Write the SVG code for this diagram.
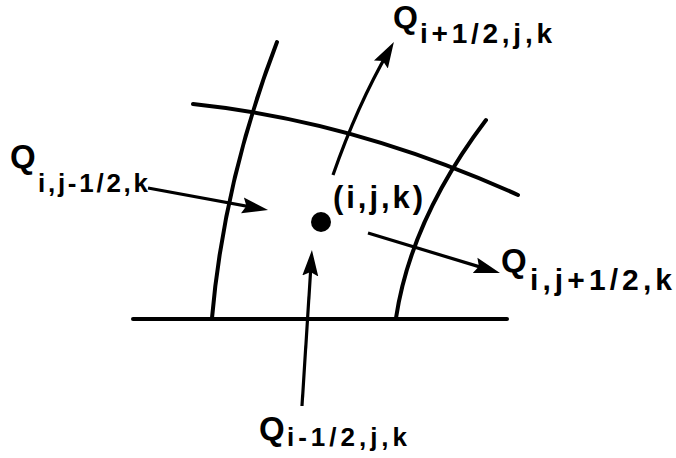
<svg xmlns="http://www.w3.org/2000/svg" width="676" height="458" viewBox="0 0 676 458">
<style>
.grid{fill:none;stroke:#000;stroke-width:4;stroke-linecap:round}
.flux{fill:none;stroke:#000;stroke-width:3.2;marker-end:url(#ah)}
text{font-family:"Liberation Sans",Arial,sans-serif;font-weight:bold;fill:#000}
</style>
<defs>
<marker id="ah" markerUnits="userSpaceOnUse" markerWidth="28" markerHeight="18" viewBox="0 0 28 18" refX="16" refY="9" orient="auto">
<path d="M0,1 L26,9 L0,17 L4,9 z" fill="#000"/>
</marker>
</defs>
<rect width="676" height="458" fill="#fff"/>
<g id="grid">
<path class="grid" d="M277,42 Q224,180 212,318"/>
<path class="grid" d="M486,120 Q411,219 396,318"/>
<path class="grid" d="M193,104 Q355,121 518,195"/>
<path class="grid" d="M133,319 L507,319"/>
</g>
<g id="cell-center">
<circle cx="321" cy="222" r="10" fill="#000"/>
<text x="333" y="208" font-size="31" textLength="90" lengthAdjust="spacing">(i,j,k)</text>
</g>
<g id="connectors">
<path class="flux" d="M333,175 Q357,106 388.9,50.6"/>
<path class="flux" d="M148,188 L258.2,208.2"/>
<path class="flux" d="M368,233 L490.4,270.1"/>
<path class="flux" d="M302,406 L311.3,260"/>
</g>
<g id="flux-i-plus">
<text x="393" y="28" font-size="32">Q</text>
<text x="420" y="43" font-size="28" textLength="132" lengthAdjust="spacing">i+1/2,j,k</text>
</g>
<g id="flux-j-minus">
<text x="10" y="168" font-size="33">Q</text>
<text x="38" y="192" font-size="26" textLength="110" lengthAdjust="spacing">i,j-1/2,k</text>
</g>
<g id="flux-j-plus">
<text x="501" y="272" font-size="33">Q</text>
<text x="530" y="290" font-size="30" textLength="142" lengthAdjust="spacing">i,j+1/2,k</text>
</g>
<g id="flux-i-minus">
<text x="259" y="440" font-size="33">Q</text>
<text x="287" y="446" font-size="26" textLength="120" lengthAdjust="spacing">i-1/2,j,k</text>
</g>
</svg>
